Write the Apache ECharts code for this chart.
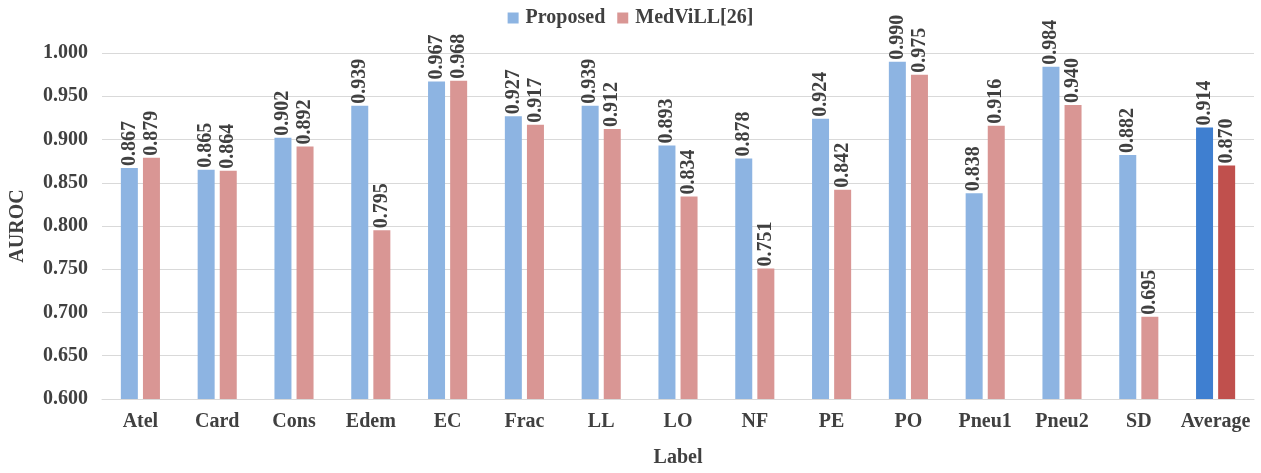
<!DOCTYPE html>
<html>
<head>
<meta charset="utf-8">
<script src="https://cdn.jsdelivr.net/npm/echarts@6/dist/echarts.min.js"></script>
<style>
  html, body { margin: 0; padding: 0; background: #fff; }
  #chartBox { width: 1261px; height: 473px; }
</style>
</head>
<body>
<div id="chartBox"></div>
<script>
const categories = ['Atel', 'Card', 'Cons', 'Edem', 'EC', 'Frac', 'LL', 'LO', 'NF', 'PE', 'PO', 'Pneu1', 'Pneu2', 'SD', 'Average']
const proposed = [0.867, 0.865, 0.902, 0.939, 0.967, 0.927, 0.939, 0.893, 0.878, 0.924, 0.990, 0.838, 0.984, 0.882, 0.914]
const medvill = [0.879, 0.864, 0.892, 0.795, 0.968, 0.917, 0.912, 0.834, 0.751, 0.842, 0.975, 0.916, 0.940, 0.695, 0.870]

const font = 'Liberation Serif'
const textColor = '#404040'
const blue = '#8db4e2'
const red = '#d99694'
const blueDark = '#3f7fd0'
const redDark = '#c0504d'

const chart = echarts.init(document.getElementById('chartBox'))

// last category (Average) gets the stronger colour
function withColors(values, normal, strong) {
  return values.map((v, i) => ({
    value: v,
    itemStyle: { color: i === values.length - 1 ? strong : normal }
  }))
}

const barLabel = {
  show: true,
  position: 'top',
  rotate: 90,
  align: 'left',
  verticalAlign: 'middle',
  distance: 2,
  fontFamily: font,
  fontWeight: 'bold',
  fontSize: 20,
  color: textColor,
  formatter: p => p.value.toFixed(3)
}

chart.setOption({
  animation: false,
  legend: {
    top: 3,
    left: 'center',
    icon: 'rect',
    itemWidth: 11,
    itemHeight: 11,
    itemGap: 12,
    textStyle: { fontFamily: font, fontWeight: 'bold', fontSize: 20, color: textColor, padding: [0, 0, 0, 2] },
    data: [
      { name: 'Proposed', itemStyle: { color: blue } },
      { name: 'MedViLL[26]', itemStyle: { color: red } }
    ]
  },
  grid: { left: 102, right: 7, top: 53, bottom: 74 },
  xAxis: {
    type: 'category',
    data: categories,
    name: 'Label',
    nameLocation: 'middle',
    nameGap: 49,
    nameTextStyle: { fontFamily: font, fontWeight: 'bold', fontSize: 20, color: textColor },
    axisTick: { show: false },
    axisLine: { lineStyle: { color: '#d9d9d9' } },
    axisLabel: { interval: 0, fontFamily: font, fontWeight: 'bold', fontSize: 20, color: textColor, margin: 13 }
  },
  yAxis: {
    type: 'value',
    min: 0.6,
    max: 1.0,
    interval: 0.05,
    name: 'AUROC',
    nameLocation: 'middle',
    nameGap: 74,
    nameTextStyle: { fontFamily: font, fontWeight: 'bold', fontSize: 20, color: textColor },
    axisLabel: {
      fontFamily: font, fontWeight: 'bold', fontSize: 20, color: textColor, margin: 14,
      formatter: v => v.toFixed(3)
    },
    splitLine: { lineStyle: { color: '#d9d9d9' } }
  },
  series: [
    {
      name: 'Proposed',
      type: 'bar',
      barWidth: 17,
      barGap: '30%',
      itemStyle: { color: blue },
      label: barLabel,
      data: withColors(proposed, blue, blueDark)
    },
    {
      name: 'MedViLL[26]',
      type: 'bar',
      barWidth: 17,
      barGap: '30%',
      itemStyle: { color: red },
      label: barLabel,
      data: withColors(medvill, red, redDark)
    }
  ]
})
</script>
</body>
</html>
